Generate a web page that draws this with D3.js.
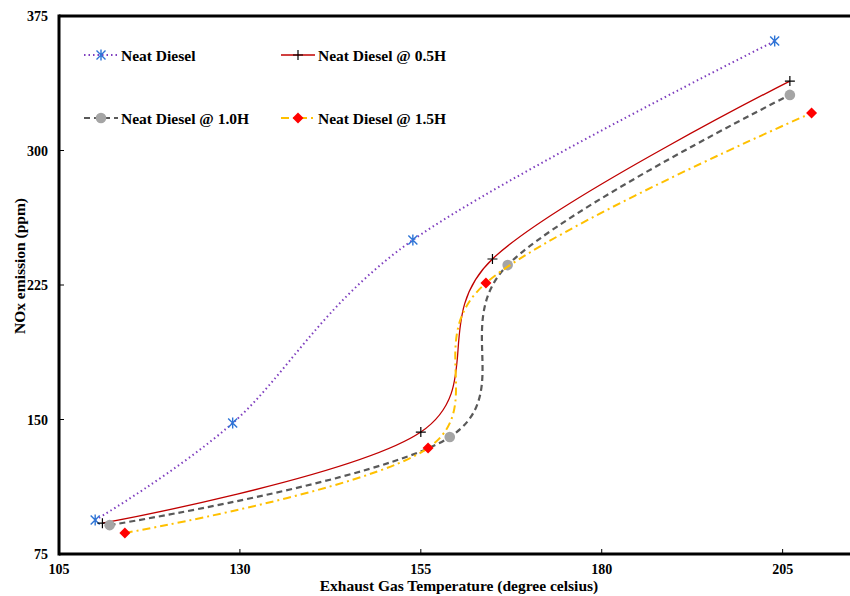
<!DOCTYPE html>
<html>
<head>
<meta charset="utf-8">
<script src="https://cdn.jsdelivr.net/npm/d3@7"></script>
<style>
  body { margin: 0; background: #fff; }
  text { font-family: "Liberation Serif", "Times New Roman", serif; font-weight: bold; }
</style>
</head>
<body>
<div id="chart-container"></div>
<script>
const xTicks = [105, 130, 155, 180, 205];
const yTicks = [75, 150, 225, 300, 375];

const neatX = [110.0, 129.0, 153.9, 203.9];
const neatY = [93.9, 148.0, 250.1, 361.0];

const h05X = [111.0, 155.0, 164.9, 206.0];
const h05Y = [92.2, 143.0, 239.5, 338.7];

const h10X = [112.0, 159.0, 167.0, 206.0];
const h10Y = [91.1, 140.2, 236.1, 331.0];

const h15X = [114.1, 156.0, 164.0, 209.0];
const h15Y = [86.7, 134.1, 226.1, 320.9];

const seriesNames = ["Neat Diesel", "Neat Diesel @ 0.5H", "Neat Diesel @ 1.0H", "Neat Diesel @ 1.5H"];

const series = [
    { name: seriesNames[0], xs: neatX, ys: neatY, stroke: "#7f3fbf", dash: "1.5,3", width: 2, marker: "star", mcolor: "#2e75d6" },
    { name: seriesNames[1], xs: h05X, ys: h05Y, stroke: "#c00000", dash: null, width: 1.3, marker: "plus", mcolor: "#000" },
    { name: seriesNames[2], xs: h10X, ys: h10Y, stroke: "#595959", dash: "6,4", width: 2.2, marker: "circle", mcolor: "#a5a5a5" },
    { name: seriesNames[3], xs: h15X, ys: h15Y, stroke: "#ffc000", dash: "8,4,2,4", width: 2, marker: "diamond", mcolor: "#ff0000" }
];

const svgWidth = 850;
const svgHeight = 596;
const margin = { top: 16, left: 59, bottom: 42 };

const svg = d3.select("#chart-container")
    .append("svg")
    .attr("width", svgWidth)
    .attr("height", svgHeight);

const scaleX = d3.scaleLinear().domain([105, 215]).range([margin.left, 855]);
const scaleY = d3.scaleLinear().domain([75, 375]).range([554, margin.top]);

// frame lines
svg.append("line")
    .attr("x1", scaleX(105)).attr("x2", 850)
    .attr("y1", scaleY(75)).attr("y2", scaleY(75))
    .attr("stroke", "#000").attr("stroke-width", 3);
svg.append("line")
    .attr("x1", scaleX(105)).attr("x2", 850)
    .attr("y1", scaleY(375)).attr("y2", scaleY(375))
    .attr("stroke", "#000").attr("stroke-width", 3);
svg.append("line")
    .attr("x1", scaleX(105)).attr("x2", scaleX(105))
    .attr("y1", scaleY(375) - 1.5).attr("y2", scaleY(75) + 1.5)
    .attr("stroke", "#000").attr("stroke-width", 3);

// ticks
svg.selectAll(".xtick")
    .data(xTicks.slice(1))
    .enter()
    .append("line")
    .attr("x1", d => scaleX(d)).attr("x2", d => scaleX(d))
    .attr("y1", scaleY(75)).attr("y2", scaleY(75) - 5)
    .attr("stroke", "#000");
svg.selectAll(".ytick")
    .data(yTicks.slice(1, 4))
    .enter()
    .append("line")
    .attr("x1", scaleX(105)).attr("x2", scaleX(105) + 5)
    .attr("y1", d => scaleY(d)).attr("y2", d => scaleY(d))
    .attr("stroke", "#000");

svg.selectAll(".xlabel")
    .data(xTicks)
    .enter()
    .append("text")
    .attr("x", d => scaleX(d))
    .attr("y", 574)
    .attr("text-anchor", "middle")
    .attr("font-size", "14px")
    .text(d => d);

svg.selectAll(".ylabel")
    .data(yTicks)
    .enter()
    .append("text")
    .attr("x", 48)
    .attr("y", d => scaleY(d) + 5)
    .attr("text-anchor", "end")
    .attr("font-size", "14px")
    .text(d => d);

svg.append("text")
    .attr("x", 459)
    .attr("y", 591)
    .attr("text-anchor", "middle")
    .attr("font-size", "15.5px")
    .text("Exhaust Gas Temperature (degree celsius)");

svg.append("text")
    .attr("transform", "rotate(-90)")
    .attr("x", -266)
    .attr("y", 25)
    .attr("text-anchor", "middle")
    .attr("font-size", "15.5px")
    .text("NOx emission (ppm)");

function drawMarker(g, type, color, x, y) {
    if (type === "star") {
        const s = 4.5;
        g.append("path")
            .attr("d", `M${x - s},${y - s}L${x + s},${y + s}M${x - s},${y + s}L${x + s},${y - s}M${x},${y - s - 1}L${x},${y + s + 1}`)
            .attr("stroke", color).attr("stroke-width", 1.4).attr("fill", "none");
    } else if (type === "plus") {
        const s = 5;
        g.append("path")
            .attr("d", `M${x - s},${y}L${x + s},${y}M${x},${y - s}L${x},${y + s}`)
            .attr("stroke", color).attr("stroke-width", 1.2).attr("fill", "none");
    } else if (type === "circle") {
        g.append("circle").attr("cx", x).attr("cy", y).attr("r", 5.3).attr("fill", color);
    } else if (type === "diamond") {
        const s = 5.5;
        g.append("path")
            .attr("d", `M${x},${y - s}L${x + s},${y}L${x},${y + s}L${x - s},${y}Z`)
            .attr("fill", color);
    }
}

const line = d3.line()
    .x(d => scaleX(d[0]))
    .y(d => scaleY(d[1]))
    .curve(d3.curveCardinal.tension(0));

series.forEach(function(s) {
    const pts = s.xs.map((x, i) => [x, s.ys[i]]);
    svg.append("path")
        .datum(pts)
        .attr("d", line)
        .attr("fill", "none")
        .attr("stroke", s.stroke)
        .attr("stroke-width", s.width)
        .attr("stroke-dasharray", s.dash);
    const g = svg.append("g");
    pts.forEach(p => drawMarker(g, s.marker, s.mcolor, scaleX(p[0]), scaleY(p[1])));
});

// legend
const legendPos = [[84, 55], [281, 55], [84, 118], [281, 118]];
series.forEach(function(s, i) {
    const lx = legendPos[i][0], ly = legendPos[i][1];
    const g = svg.append("g");
    g.append("line")
        .attr("x1", lx).attr("x2", lx + 34)
        .attr("y1", ly).attr("y2", ly)
        .attr("stroke", s.stroke)
        .attr("stroke-width", s.width)
        .attr("stroke-dasharray", s.dash);
    drawMarker(g, s.marker, s.mcolor, lx + 17, ly);
    g.append("text")
        .attr("x", lx + 37)
        .attr("y", ly + 5.5)
        .attr("font-size", "15.5px")
        .text(s.name);
});
</script>
</body>
</html>
